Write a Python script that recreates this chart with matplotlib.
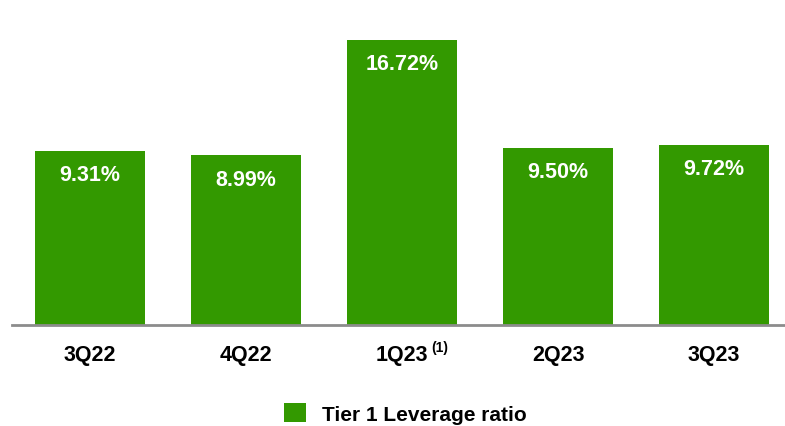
import matplotlib
matplotlib.use("Agg")
import matplotlib.pyplot as plt
from matplotlib.patches import Patch

plt.rcParams["font.family"] = ["Liberation Sans", "DejaVu Sans"]

quarters = ["3Q22", "4Q22", "1Q23", "2Q23", "3Q23"]
tier1_leverage = [9.31, 8.99, 16.72, 9.50, 9.72]
footnoted = {"1Q23": "(1)"}
series_name = "Tier 1 Leverage ratio"

GREEN = "#339900"
AXIS_GRAY = "#8c8c8c"
BASE = -2.35  # value axis does not start at zero

W, H = 785, 427
fig = plt.figure(figsize=(W / 100, H / 100), dpi=100)
ax = fig.add_axes([12 / W, 1 - 326 / H, 773 / W, 326 / H])

x = list(range(len(quarters)))
ax.bar(x, [v - BASE for v in tier1_leverage], bottom=BASE, width=0.705,
       color=GREEN, zorder=2)
ax.set_xlim(-0.5, 4.455)
ax.set_ylim(BASE, 19.46)

for xi, v in zip(x, tier1_leverage):
    ax.annotate(f"{v:.2f}%", xy=(xi, v), xytext=(0, -17), textcoords="offset points",
                ha="center", va="center", color="white", fontsize=15.5,
                fontweight="bold")

ax.set_xticks(x)
ax.set_xticklabels(quarters, fontsize=15.5, fontweight="bold", color="black")
ax.tick_params(axis="x", length=0, pad=14)
ax.set_yticks([])
for s in ("top", "right", "left"):
    ax.spines[s].set_visible(False)
ax.spines["bottom"].set_color(AXIS_GRAY)
ax.spines["bottom"].set_linewidth(2)
ax.spines["bottom"].set_zorder(3)

# footnote marker on a tick label
for xi, q in zip(x, quarters):
    if q in footnoted:
        ax.annotate(footnoted[q], xy=(xi, BASE), xycoords="data",
                    xytext=(20.8, -15.5), textcoords="offset points",
                    ha="left", va="center", fontsize=10, fontweight="bold")

fig.legend(handles=[Patch(facecolor=GREEN, edgecolor="none", label=series_name)],
           loc="center", bbox_to_anchor=(405.5 / W, 1 - 414.5 / H),
           frameon=False, prop={"weight": "bold", "size": 15},
           handlelength=1.05, handleheight=1.05, handletextpad=0.8, borderpad=0)

fig.savefig("out.png", dpi=100)
